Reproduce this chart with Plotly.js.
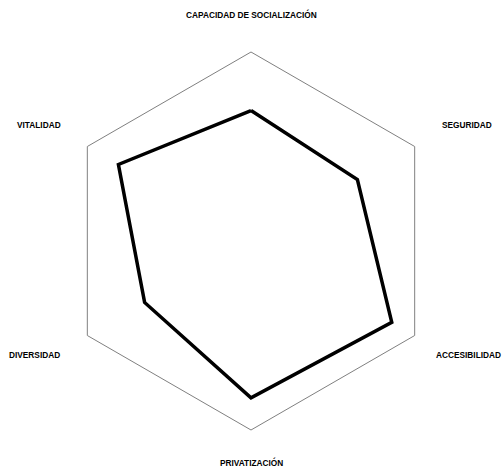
<!DOCTYPE html>
<html>
<head>
<meta charset="utf-8">
<script src="https://cdn.plot.ly/plotly-3.0.1.min.js"></script>
<style>html,body{margin:0;padding:0;background:#fff;}#chart{width:503px;height:471px;}</style>
</head>
<body>
<div id="chart"></div>
<script>
const categories = ["CAPACIDAD DE SOCIALIZACIÓN", "SEGURIDAD", "ACCESIBILIDAD", "PRIVATIZACIÓN", "DIVERSIDAD", "VITALIDAD"];
const values = [6.9, 6.5, 8.6, 8.3, 6.5, 8.1];

const trace = {
  type: "scatterpolar",
  r: values.concat([values[0]]),
  theta: categories.concat([categories[0]]),
  mode: "lines",
  line: {color: "#000000", width: 3.5},
  hoverinfo: "skip",
  showlegend: false
};

// label placement in page pixels (x, y, anchor)
const labelPos = [
  [251, 15, "center"],
  [441, 125, "left"],
  [502, 355, "right"],
  [251, 463, "center"],
  [61, 355, "right"],
  [62, 125, "right"]
];
const M = {l: 62, r: 63, t: 52, b: 41};
const S = 378;
const labelFont = {family: "Liberation Sans Narrow, Arial Narrow, Liberation Sans, sans-serif", size: 8.3, color: "#000000", weight: "bold"};
const annotations = categories.map((c, i) => ({
  text: c,
  xref: "paper", yref: "paper",
  x: (labelPos[i][0] - M.l) / S,
  y: 1 - (labelPos[i][1] - M.t) / S,
  xanchor: labelPos[i][2], yanchor: "middle",
  showarrow: false,
  borderpad: 0,
  font: labelFont
}));

const layout = {
  width: 503,
  height: 471,
  margin: M,
  paper_bgcolor: "#ffffff",
  plot_bgcolor: "#ffffff",
  font: {family: "Liberation Sans, sans-serif", size: 9, color: "#000000"},
  annotations: annotations,
  polar: {
    bgcolor: "#ffffff",
    gridshape: "linear",
    domain: {x: [0, 1], y: [0, 1]},
    radialaxis: {range: [0, 10], showticklabels: false, showgrid: false, showline: false, ticks: "", visible: true},
    angularaxis: {
      direction: "clockwise",
      rotation: 90,
      showgrid: false,
      showline: true,
      linecolor: "#808080",
      linewidth: 1,
      ticks: "",
      showticklabels: false
    }
  }
};

Plotly.newPlot("chart", [trace], layout, {displayModeBar: false, staticPlot: true});
</script>
</body>
</html>
